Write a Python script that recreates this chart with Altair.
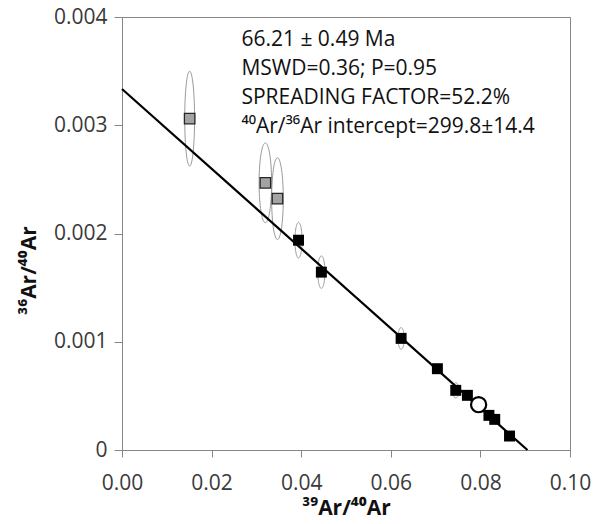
import altair as alt
import numpy as np
import pandas as pd

# --- data ---
grey_x = [0.0151, 0.0320, 0.0347]
grey_y = [0.003061, 0.002468, 0.002322]
grey_ex = [0.0011, 0.0014, 0.0013]
grey_ey = [0.000438, 0.000369, 0.000378]

black_x = [0.0394, 0.0445, 0.0623, 0.0704, 0.0745, 0.0771, 0.0819, 0.0832, 0.0865]
black_y = [0.001938, 0.001643, 0.001031, 0.000751, 0.000551, 0.000505, 0.000320, 0.000283, 0.000129]
black_ex = [0.0008, 0.0008, 0.0007, 0.0005, 0.0007, 0.0005, 0.0005, 0.0005, 0.0005]
black_ey = [0.000164, 0.000150, 0.000100, 0.000045, 0.000070, 0.000040, 0.000040, 0.000040, 0.000040]

open_x = [0.0796]
open_y = [0.000419]

fit_x = [0.0, 0.0905]
fit_y = [0.003335, 0.0]

notes = ["66.21 \u00b1 0.49 Ma", "MSWD=0.36; P=0.95", "SPREADING FACTOR=52.2%",
         "\u2074\u2070Ar/\u00b3\u2076Ar intercept=299.8\u00b114.4"]
note_x = 0.02665
note_y = 0.003729

FONT = "Open Sans"
AX = "#868686"
TXT = "#3a3a3a"

# error ellipses built from centres and half-axes
cx = grey_x + black_x
cy = grey_y + black_y
ex = grey_ex + black_ex
ey = grey_ey + black_ey
t = np.linspace(0, 2 * np.pi, 73)
rows = []
for i in range(len(cx)):
    for k, a in enumerate(t):
        rows.append({"id": i, "k": k, "x": cx[i] + ex[i] * np.cos(a), "y": cy[i] + ey[i] * np.sin(a)})
ell = pd.DataFrame(rows)

xs = alt.Scale(domain=[0, 0.1], nice=False, zero=False)
ys = alt.Scale(domain=[0, 0.004], nice=False, zero=False)

xaxis = alt.Axis(values=[0, 0.02, 0.04, 0.06, 0.08, 0.1], format=".2f", grid=False,
                 title="\u00b3\u2079Ar/\u2074\u2070Ar", titleFontWeight="bold",
                 titleFontSize=21, titleFont=FONT, titleColor="#111",
                 titleBaseline="middle", titleY=58,
                 labelFont=FONT, labelFontSize=21, labelColor=TXT, labelFlush=False,
                 tickSize=7, tickColor=AX, domainColor=AX, labelPadding=15)
yaxis = alt.Axis(values=[0, 0.001, 0.002, 0.003, 0.004], grid=False,
                 labelExpr="datum.value == 0 ? '0' : format(datum.value, '.3f')",
                 title="\u00b3\u2076Ar/\u2074\u2070Ar", titleFontWeight="bold",
                 titleFontSize=21, titleFont=FONT, titleColor="#111",
                 titleX=-93, titleY=253, titleAngle=-90, titleAlign="center", titleBaseline="middle",
                 labelFont=FONT, labelFontSize=21, labelColor=TXT, labelFlush=False,
                 tickSize=8, tickColor=AX, domainColor=AX, labelPadding=7)

ellipses = alt.Chart(ell).mark_line(stroke="#999999", strokeWidth=1).encode(
    x=alt.X("x:Q", scale=xs, axis=xaxis),
    y=alt.Y("y:Q", scale=ys, axis=yaxis),
    detail="id:N",
    order="k:Q",
)

fit = alt.Chart(pd.DataFrame({"x": fit_x, "y": fit_y})).mark_line(color="#000", strokeWidth=2.2).encode(
    x=alt.X("x:Q", scale=xs), y=alt.Y("y:Q", scale=ys))

grey = alt.Chart(pd.DataFrame({"x": grey_x, "y": grey_y})).mark_point(
    shape="square", filled=True, fill="#a3a3a3", stroke="#262626", strokeWidth=1.3, size=110, opacity=1
).encode(x=alt.X("x:Q", scale=xs), y=alt.Y("y:Q", scale=ys))

black = alt.Chart(pd.DataFrame({"x": black_x, "y": black_y})).mark_point(
    shape="square", filled=True, fill="#000", size=120, opacity=1
).encode(x=alt.X("x:Q", scale=xs), y=alt.Y("y:Q", scale=ys))

opn = alt.Chart(pd.DataFrame({"x": open_x, "y": open_y})).mark_point(
    shape="circle", filled=True, fill="#fff", stroke="#000", strokeWidth=2.2, size=230, opacity=1
).encode(x=alt.X("x:Q", scale=xs), y=alt.Y("y:Q", scale=ys))

note = alt.Chart(pd.DataFrame({"x": [note_x], "y": [note_y], "t": ["\n".join(notes)]})).mark_text(
    align="left", baseline="alphabetic", font=FONT, fontSize=21, color="#111",
    lineBreak="\n", lineHeight=29
).encode(x=alt.X("x:Q", scale=xs), y=alt.Y("y:Q", scale=ys), text="t:N")

chart = alt.layer(ellipses, fit, grey, black, opn, note).properties(
    width=448, height=433,
    autosize=alt.AutoSizeParams(type="none"),
    padding={"left": 122, "top": 17, "right": 31, "bottom": 74},
    background="#ffffff",
).configure_view(stroke=AX, strokeWidth=1)

chart.save("out.html", embed_options={"renderer": "svg", "actions": False})
